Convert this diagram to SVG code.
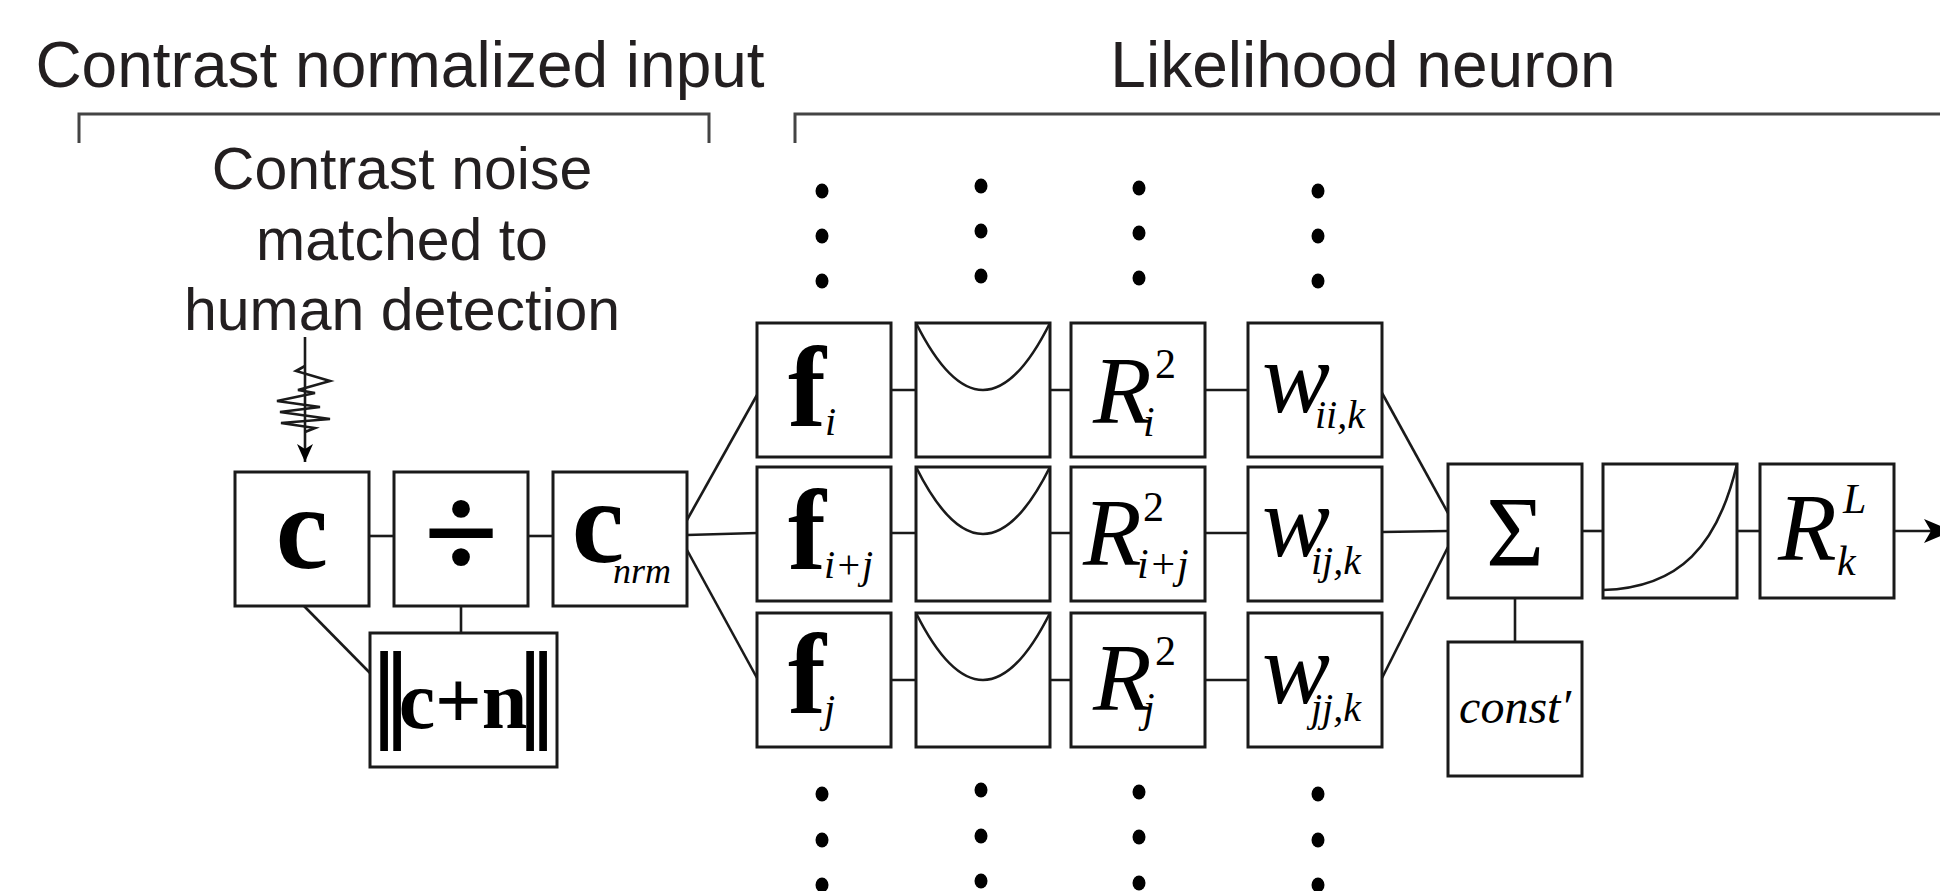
<svg xmlns="http://www.w3.org/2000/svg" width="1940" height="891" viewBox="0 0 1940 891">
<defs>
<style>
.title{font-family:"Liberation Sans",Arial,sans-serif;fill:#231f20}
.box{fill:#fff;stroke:#1a1a1a;stroke-width:3}
.ln{fill:none;stroke:#1a1a1a;stroke-width:2.6}
.br{fill:none;stroke:#444;stroke-width:3}
.m{font-family:"Liberation Serif","Times New Roman",serif;fill:#000}
.b{font-weight:bold}
.it{font-style:italic}
.dot{fill:#000}
</style>
<marker id="stealth" viewBox="0 0 20 20" refX="18" refY="10" markerWidth="20" markerHeight="20" markerUnits="userSpaceOnUse" orient="auto">
<path d="M0 2 L18 10 L0 18 L5 10 Z" fill="#000"/>
</marker>
<marker id="stealthBig" viewBox="0 0 30 30" refX="28" refY="15" markerWidth="30" markerHeight="30" markerUnits="userSpaceOnUse" orient="auto">
<path d="M0 3 L28 15 L0 27 L7 15 Z" fill="#000"/>
</marker>
</defs>
<rect width="1940" height="891" fill="#fff"/>

<g id="titles">
<text class="title" x="400" y="87" font-size="64" text-anchor="middle">Contrast normalized input</text>
<text class="title" x="1363" y="87" font-size="64" text-anchor="middle">Likelihood neuron</text>
<path class="br" d="M79 143 V114 H709 V143"/>
<path class="br" d="M795 143 V114 H1945"/>
<text class="title" font-size="59" text-anchor="middle"><tspan x="402" y="189">Contrast noise</tspan><tspan x="402" y="260">matched to</tspan><tspan x="402" y="330">human detection</tspan></text>
</g>

<g id="connectors">
<line class="ln" stroke-width="2.2" x1="305" y1="337" x2="305" y2="462" marker-end="url(#stealth)"/>
<polyline class="ln" stroke-width="1.6" points="305,366 296,371 330,381 298,390 315,393 277,401 320,407 280,412 330,419 281,423 315,428 305,432"/>
<line class="ln" x1="369" y1="536" x2="394" y2="536"/>
<line class="ln" x1="528" y1="536" x2="553" y2="536"/>
<line class="ln" x1="304" y1="606" x2="370" y2="673"/>
<line class="ln" x1="461" y1="606" x2="461" y2="633"/>
<line class="ln" x1="687" y1="520" x2="757" y2="395"/>
<line class="ln" x1="687" y1="535" x2="757" y2="533"/>
<line class="ln" x1="687" y1="550" x2="757" y2="678"/>
<path class="ln" d="M891 390 H916 M1050 390 H1071 M1205 390 H1248"/>
<path class="ln" d="M891 533 H916 M1050 533 H1071 M1205 533 H1248"/>
<path class="ln" d="M891 680 H916 M1050 680 H1071 M1205 680 H1248"/>
<line class="ln" x1="1382" y1="393" x2="1448" y2="513"/>
<line class="ln" x1="1382" y1="532" x2="1448" y2="531"/>
<line class="ln" x1="1382" y1="678" x2="1448" y2="547"/>
<line class="ln" x1="1582" y1="531" x2="1603" y2="531"/>
<line class="ln" x1="1737" y1="531" x2="1760" y2="531"/>
<line class="ln" x1="1515" y1="598" x2="1515" y2="642"/>
<line class="ln" stroke-width="2.8" x1="1894" y1="531" x2="1952" y2="531" marker-end="url(#stealthBig)"/>
</g>

<g id="node-c">
<rect class="box" x="235" y="472" width="134" height="134"/>
<text class="m b" x="302" y="568" font-size="118" text-anchor="middle">c</text>
</g>
<g id="node-div">
<rect class="box" x="394" y="472" width="134" height="134"/>
<text class="m b" x="461" y="578" font-size="136" text-anchor="middle">÷</text>
</g>
<g id="node-cnrm">
<rect class="box" x="553" y="472" width="134" height="134"/>
<text class="m b" x="598" y="562" font-size="118" text-anchor="middle">c</text>
<text class="m it" x="613" y="583" font-size="36">nrm</text>
</g>
<g id="node-norm">
<rect class="box" x="370" y="633" width="187" height="134"/>
<text class="m b" x="384" y="728" font-size="110" text-anchor="middle">|</text>
<text class="m b" x="397" y="728" font-size="110" text-anchor="middle">|</text>
<text class="m b" x="463" y="728" font-size="82" text-anchor="middle">c+n</text>
<text class="m b" x="530" y="728" font-size="110" text-anchor="middle">|</text>
<text class="m b" x="543" y="728" font-size="110" text-anchor="middle">|</text>
</g>

<g id="node-f-i">
<rect class="box" x="757" y="323" width="134" height="134"/>
<text class="m b" x="788" y="426" font-size="114">f</text>
<text class="m it" x="825" y="435" font-size="40">i</text>
</g>
<g id="node-f-ij">
<rect class="box" x="757" y="467" width="134" height="134"/>
<text class="m b" x="788" y="569" font-size="114">f</text>
<text class="m it" x="824" y="578" font-size="40">i+j</text>
</g>
<g id="node-f-j">
<rect class="box" x="757" y="613" width="134" height="134"/>
<text class="m b" x="788" y="713" font-size="114">f</text>
<text class="m it" x="824" y="722" font-size="40">j</text>
</g>

<g id="node-sq-1">
<rect class="box" x="916" y="323" width="134" height="134"/>
<path class="ln" d="M916 323 Q983 457 1050 323"/>
</g>
<g id="node-sq-2">
<rect class="box" x="916" y="467" width="134" height="134"/>
<path class="ln" d="M916 467 Q983 601 1050 467"/>
</g>
<g id="node-sq-3">
<rect class="box" x="916" y="613" width="134" height="134"/>
<path class="ln" d="M916 613 Q983 747 1050 613"/>
</g>

<g id="node-R-i">
<rect class="box" x="1071" y="323" width="134" height="134"/>
<text class="m it" x="1093" y="423" font-size="96">R</text>
<text class="m" x="1155" y="378" font-size="42">2</text>
<text class="m it" x="1143" y="436" font-size="42">i</text>
</g>
<g id="node-R-ij">
<rect class="box" x="1071" y="467" width="134" height="134"/>
<text class="m it" x="1083" y="565" font-size="96">R</text>
<text class="m" x="1143" y="521" font-size="42">2</text>
<text class="m it" x="1137" y="578" font-size="42">i+j</text>
</g>
<g id="node-R-j">
<rect class="box" x="1071" y="613" width="134" height="134"/>
<text class="m it" x="1093" y="710" font-size="96">R</text>
<text class="m" x="1155" y="665" font-size="42">2</text>
<text class="m it" x="1143" y="722" font-size="42">j</text>
</g>

<g id="node-w-ii">
<rect class="box" x="1248" y="323" width="134" height="134"/>
<text class="m it" x="1262" y="412" font-size="102">w</text>
<text class="m it" x="1315" y="428" font-size="40">ii,k</text>
</g>
<g id="node-w-ij">
<rect class="box" x="1248" y="467" width="134" height="134"/>
<text class="m it" x="1262" y="556" font-size="102">w</text>
<text class="m it" x="1311" y="574" font-size="40">ij,k</text>
</g>
<g id="node-w-jj">
<rect class="box" x="1248" y="613" width="134" height="134"/>
<text class="m it" x="1262" y="703" font-size="102">w</text>
<text class="m it" x="1311" y="721" font-size="40">jj,k</text>
</g>

<g id="node-sum">
<rect class="box" x="1448" y="464" width="134" height="134"/>
<text class="m" x="1515" y="565" font-size="100" text-anchor="middle">Σ</text>
</g>
<g id="node-const">
<rect class="box" x="1448" y="642" width="134" height="134"/>
<text class="m it" x="1515" y="723" font-size="48" text-anchor="middle">const′</text>
</g>
<g id="node-exp">
<rect class="box" x="1603" y="464" width="134" height="134"/>
<path class="ln" d="M1603 590 C1680 588 1718 545 1737 464"/>
</g>
<g id="node-RL">
<rect class="box" x="1760" y="464" width="134" height="134"/>
<text class="m it" x="1778" y="560" font-size="96">R</text>
<text class="m it" x="1843" y="513" font-size="42">L</text>
<text class="m it" x="1837" y="575" font-size="42">k</text>
</g>

<g id="dots">
<ellipse class="dot" cx="822" cy="191" rx="6.5" ry="7.5"/><ellipse class="dot" cx="822" cy="236" rx="6.5" ry="7.5"/><ellipse class="dot" cx="822" cy="281" rx="6.5" ry="7.5"/>
<ellipse class="dot" cx="981" cy="186" rx="6.5" ry="7.5"/><ellipse class="dot" cx="981" cy="231" rx="6.5" ry="7.5"/><ellipse class="dot" cx="981" cy="276" rx="6.5" ry="7.5"/>
<ellipse class="dot" cx="1139" cy="188" rx="6.5" ry="7.5"/><ellipse class="dot" cx="1139" cy="233" rx="6.5" ry="7.5"/><ellipse class="dot" cx="1139" cy="278" rx="6.5" ry="7.5"/>
<ellipse class="dot" cx="1318" cy="191" rx="6.5" ry="7.5"/><ellipse class="dot" cx="1318" cy="236" rx="6.5" ry="7.5"/><ellipse class="dot" cx="1318" cy="281" rx="6.5" ry="7.5"/>
<ellipse class="dot" cx="822" cy="794" rx="6.5" ry="7.5"/><ellipse class="dot" cx="822" cy="840" rx="6.5" ry="7.5"/><ellipse class="dot" cx="822" cy="885" rx="6.5" ry="7.5"/>
<ellipse class="dot" cx="981" cy="790" rx="6.5" ry="7.5"/><ellipse class="dot" cx="981" cy="836" rx="6.5" ry="7.5"/><ellipse class="dot" cx="981" cy="881" rx="6.5" ry="7.5"/>
<ellipse class="dot" cx="1139" cy="792" rx="6.5" ry="7.5"/><ellipse class="dot" cx="1139" cy="837" rx="6.5" ry="7.5"/><ellipse class="dot" cx="1139" cy="883" rx="6.5" ry="7.5"/>
<ellipse class="dot" cx="1318" cy="794" rx="6.5" ry="7.5"/><ellipse class="dot" cx="1318" cy="840" rx="6.5" ry="7.5"/><ellipse class="dot" cx="1318" cy="885" rx="6.5" ry="7.5"/>
</g>
</svg>
